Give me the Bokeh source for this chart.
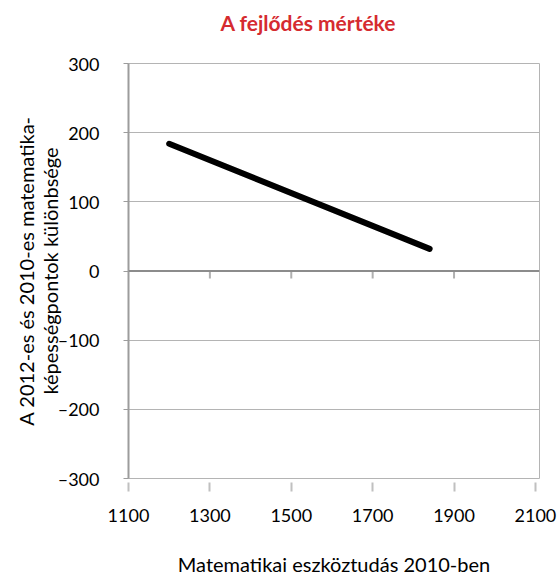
from bokeh.plotting import figure
from bokeh.models import FixedTicker, Span, Range1d
from bokeh.embed import file_html
from bokeh.resources import INLINE

# data
x_vals = [1200, 1840]
y_vals = [184, 32]
x_ticks = [1100, 1300, 1500, 1700, 1900, 2100]
y_ticks = [-300, -200, -100, 0, 100, 200, 300]
y_tick_labels = ["\u2013300", "\u2013200", "\u2013100", "0", "100", "200", "300"]
title_text = "A fejl\u0151d\u00e9s m\u00e9rt\u00e9ke"
x_title = "Matematikai eszk\u00f6ztud\u00e1s 2010-ben"
y_title = "A 2012-es \u00e9s 2010-es matematika-\nk\u00e9pess\u00e9gpontok k\u00fcl\u00f6nbs\u00e9ge"

FONT = "Lato"
GRID = "#b4b4b4"

p = figure(frame_width=411, frame_height=415, output_backend="svg", toolbar_location=None,
           x_range=Range1d(1100, 2110), y_range=Range1d(-300, 300),
           min_border_left=128, min_border_right=21, min_border_top=63, min_border_bottom=99)

p.title.text = title_text + "\n "
p.title.text_color = "#d52b30"
p.title.text_font = FONT
p.title.text_font_size = "21px"
p.title.text_font_style = "bold"
p.title.align = "left"
p.title.offset = 92
p.title.standoff = 7

p.outline_line_color = GRID
p.outline_line_width = 1
p.background_fill_color = "white"
p.border_fill_color = "white"

# grids
p.xgrid.visible = False
p.ygrid.ticker = FixedTicker(ticks=y_ticks)
p.ygrid.grid_line_color = GRID
p.ygrid.grid_line_width = 1

# x axis
xa = p.xaxis[0]
xa.ticker = FixedTicker(ticks=x_ticks)
xa.axis_line_color = None
xa.major_tick_line_color = "#c0c0c0"
xa.major_tick_line_width = 2
xa.major_tick_in = -4
xa.major_tick_out = 13
xa.minor_tick_line_color = None
xa.major_label_standoff = 17
xa.major_label_text_font = FONT
xa.major_label_text_font_size = "18px"
xa.major_label_text_color = "black"
xa.axis_label = x_title
xa.axis_label_text_font = FONT
xa.axis_label_text_font_size = "20px"
xa.axis_label_text_font_style = "normal"
xa.axis_label_text_color = "black"
xa.axis_label_standoff = 27

# y axis
ya = p.yaxis[0]
ya.ticker = FixedTicker(ticks=y_ticks)
ya.major_label_overrides = {t: l for t, l in zip(y_ticks, y_tick_labels)}
ya.axis_line_color = "#9c9c9c"
ya.axis_line_width = 2
ya.major_tick_line_color = "#9c9c9c"
ya.major_tick_in = 0
ya.major_tick_out = 5
ya.minor_tick_line_color = None
ya.major_label_standoff = 24
ya.major_label_text_font = FONT
ya.major_label_text_font_size = "18px"
ya.major_label_text_color = "black"
ya.axis_label = y_title
ya.axis_label_text_font = FONT
ya.axis_label_text_font_size = "20px"
ya.axis_label_text_font_style = "normal"
ya.axis_label_text_color = "black"
ya.axis_label_text_line_height = 1.0
ya.axis_label_standoff = -7

# zero line with downward ticks
p.add_layout(Span(location=0, dimension="width", line_color="#8c8c8c", line_width=2))
inner_ticks = x_ticks[1:-1]
p.segment(x0=inner_ticks, x1=inner_ticks, y0=[0] * len(inner_ticks), y1=[-11] * len(inner_ticks),
          line_color="#b0b0b0", line_width=2)

# data line
p.line(x_vals, y_vals, line_color="black", line_width=6, line_cap="round")

open("out.html", "w").write(file_html(p, INLINE))
